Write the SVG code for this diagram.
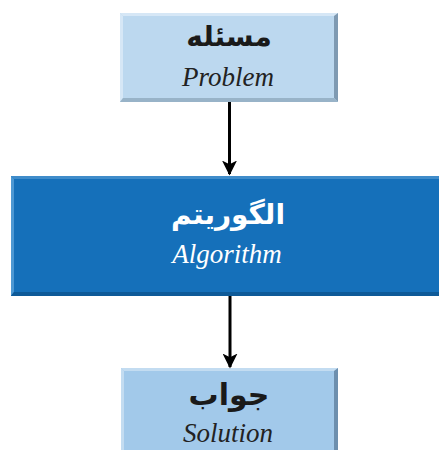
<svg xmlns="http://www.w3.org/2000/svg" width="439" height="450" viewBox="0 0 439 450">
  <defs>
    <marker id="arrow" viewBox="0 0 10 10" refX="9" refY="5" markerWidth="5" markerHeight="5" orient="auto" markerUnits="strokeWidth">
      <path d="M0,0 L10,5 L0,10 L2.5,5 Z" fill="#000"/>
    </marker>
  </defs>
  <style>
    .fa { font-family: "DejaVu Sans", "Noto Sans", sans-serif; font-weight: bold; text-anchor: middle; }
    .en { font-family: "Liberation Serif", "DejaVu Serif", serif; font-style: italic; text-anchor: middle; }
    .conn { stroke: #000; stroke-width: 3; fill: none; marker-end: url(#arrow); }
  </style>
  <rect width="439" height="450" fill="#fff"/>

  <!-- problem box -->
  <g id="problem">
    <rect x="120" y="13" width="218" height="89" fill="#bcd8ef"/>
    <polygon points="120,13 338,13 335,16 123,16" fill="#d6e7f6"/>
    <polygon points="120,13 123,16 123,98 120,102" fill="#d6e7f6"/>
    <polygon points="338,13 338,102 334,98 334,16" fill="#7f9ab2"/>
    <polygon points="120,102 338,102 334,98 123,98" fill="#98b3c8"/>
    <text class="fa" x="229" y="46" font-size="28" fill="#1a1a1a">مسئله</text>
    <text class="en" x="228" y="86" font-size="27" fill="#222">Problem</text>
  </g>

  <!-- algorithm box -->
  <g id="algorithm">
    <rect x="11" y="176" width="428" height="120" fill="#1570ba"/>
    <polygon points="11,176 439,176 439,179 14,179" fill="#3f8cca"/>
    <polygon points="11,176 14,179 14,292 11,296" fill="#4d98d3"/>
    <polygon points="11,296 439,296 439,292 14,292" fill="#0e5a98"/>
    <text class="fa" x="228" y="224" font-size="28" fill="#fff">الگوریتم</text>
    <text class="en" x="227" y="263" font-size="27" fill="#fff">Algorithm</text>
  </g>

  <!-- solution box -->
  <g id="solution">
    <rect x="121" y="368" width="217" height="82" fill="#a2c9ea"/>
    <polygon points="121,368 338,368 335,371 124,371" fill="#c3dcf1"/>
    <polygon points="121,368 124,371 124,450 121,450" fill="#c3dcf1"/>
    <polygon points="338,368 338,450 334,450 334,371" fill="#6d8fae"/>
    <text class="fa" x="229" y="405" font-size="30" fill="#1a1a1a">جواب</text>
    <text class="en" x="228" y="442" font-size="27" fill="#222">Solution</text>
  </g>

  <!-- connectors -->
  <g id="connectors">
    <line class="conn" x1="229.5" y1="102" x2="229.5" y2="174"/>
    <line class="conn" x1="230" y1="296" x2="230" y2="367"/>
  </g>
</svg>
